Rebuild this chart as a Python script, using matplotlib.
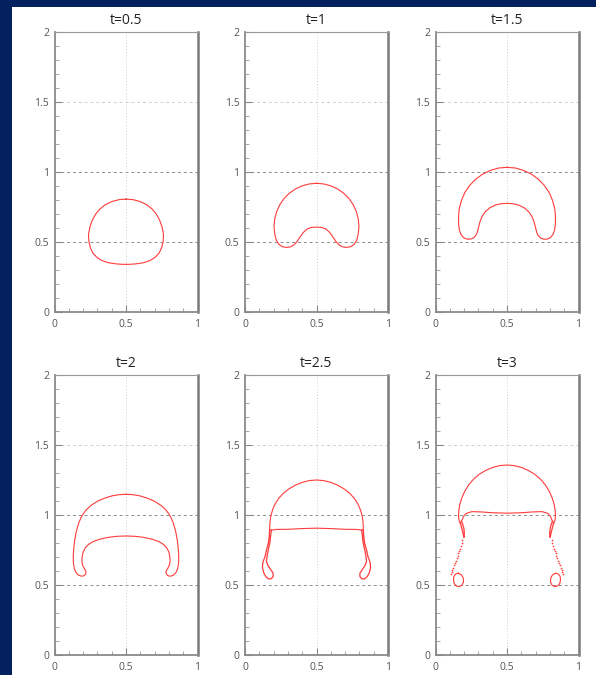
import numpy as np
import matplotlib
matplotlib.use("Agg")
import matplotlib.pyplot as plt
from matplotlib.patches import Rectangle
from matplotlib.ticker import MultipleLocator

plt.rcParams['font.family'] = ['Open Sans', 'DejaVu Sans']

# interface contours, left half only (the bubble is symmetric about x = 0.5)
# t = 0.5
x_t05 = [0.500, 0.450, 0.400, 0.355, 0.318, 0.288, 0.265, 0.248, 0.238, 0.240,
         0.250, 0.268, 0.295, 0.330, 0.375, 0.425, 0.475, 0.500]
y_t05 = [0.810, 0.806, 0.792, 0.770, 0.740, 0.703, 0.660, 0.612, 0.560, 0.510,
         0.465, 0.425, 0.395, 0.372, 0.356, 0.348, 0.344, 0.344]

# t = 1
x_t1 = [0.500, 0.448, 0.398, 0.352, 0.309, 0.272, 0.243, 0.221, 0.208, 0.203,
        0.208, 0.218, 0.236, 0.260, 0.290, 0.318, 0.342, 0.365, 0.385, 0.408,
        0.435, 0.465, 0.500]
y_t1 = [0.923, 0.918, 0.904, 0.882, 0.851, 0.813, 0.769, 0.720, 0.668, 0.615,
        0.561, 0.518, 0.488, 0.470, 0.465, 0.469, 0.483, 0.508, 0.540, 0.572,
        0.597, 0.608, 0.610]

# t = 1.5
x_t15 = [0.500, 0.441, 0.384, 0.331, 0.282, 0.240, 0.206, 0.182, 0.166, 0.161,
         0.162, 0.167, 0.178, 0.196, 0.220, 0.243, 0.265, 0.282, 0.293, 0.300,
         0.310, 0.325, 0.348, 0.380, 0.420, 0.460, 0.500]
y_t15 = [1.037, 1.032, 1.015, 0.989, 0.953, 0.909, 0.859, 0.802, 0.742, 0.680,
         0.630, 0.590, 0.558, 0.535, 0.524, 0.524, 0.532, 0.550, 0.575, 0.605,
         0.645, 0.685, 0.720, 0.748, 0.768, 0.777, 0.780]

# t = 2
x_t2 = [0.500, 0.450, 0.400, 0.350, 0.300, 0.255, 0.220, 0.192, 0.170, 0.153,
        0.142, 0.135, 0.131, 0.132, 0.138, 0.150, 0.168, 0.188, 0.206, 0.218,
        0.220, 0.210, 0.198, 0.192, 0.193, 0.200, 0.215, 0.238, 0.270, 0.320,
        0.380, 0.440, 0.500]
y_t2 = [1.148, 1.145, 1.136, 1.120, 1.098, 1.068, 1.035, 0.995, 0.945, 0.885,
        0.825, 0.765, 0.710, 0.660, 0.620, 0.590, 0.570, 0.563, 0.566, 0.578,
        0.596, 0.615, 0.638, 0.665, 0.700, 0.735, 0.765, 0.790, 0.810, 0.828,
        0.841, 0.848, 0.850]

# t = 2.5: cap, thin film, skirt and the loop at its lower end
x_t25_cap = [0.500, 0.450, 0.400, 0.350, 0.305, 0.268, 0.235, 0.210, 0.192, 0.180,
             0.174, 0.172]
y_t25_cap = [1.250, 1.246, 1.233, 1.212, 1.185, 1.155, 1.118, 1.078, 1.035, 0.990,
             0.945, 0.895]
x_t25_film = [0.172, 0.185, 0.220, 0.300, 0.400, 0.500]
y_t25_film = [0.895, 0.892, 0.897, 0.898, 0.903, 0.906]
x_t25_skirt = [0.172, 0.170, 0.163, 0.150, 0.140, 0.128, 0.124, 0.122, 0.130,
               0.145, 0.165, 0.185, 0.197, 0.196, 0.180, 0.160, 0.150, 0.155,
               0.165, 0.175, 0.180, 0.185]
y_t25_skirt = [0.893, 0.850, 0.798, 0.750, 0.702, 0.670, 0.655, 0.625, 0.590,
               0.560, 0.543, 0.545, 0.562, 0.585, 0.610, 0.640, 0.670, 0.710,
               0.760, 0.810, 0.860, 0.893]

# t = 3: cap, film, neck, broken ligament and satellite drop
x_t3_cap = [0.500, 0.450, 0.400, 0.350, 0.305, 0.265, 0.232, 0.205, 0.185, 0.170,
            0.163, 0.161, 0.165, 0.175]
y_t3_cap = [1.357, 1.353, 1.340, 1.318, 1.290, 1.255, 1.215, 1.170, 1.125, 1.075,
            1.030, 0.990, 0.960, 0.940]
x_t3_film = [0.172, 0.185, 0.196, 0.215, 0.255, 0.320, 0.400, 0.500]
y_t3_film = [0.940, 0.962, 0.990, 1.012, 1.024, 1.022, 1.016, 1.013]
x_t3_neck = [0.175, 0.182, 0.190, 0.196, 0.199, 0.202, 0.198, 0.190, 0.182]
y_t3_neck = [0.940, 0.910, 0.880, 0.850, 0.840, 0.870, 0.905, 0.935, 0.955]
x_t3_drops = [0.188, 0.182, 0.176, 0.170, 0.165, 0.160, 0.154, 0.148, 0.142,
              0.136, 0.130, 0.124, 0.118, 0.112, 0.106]
y_t3_drops = [0.820, 0.800, 0.780, 0.760, 0.745, 0.730, 0.710, 0.690, 0.670,
              0.655, 0.640, 0.625, 0.610, 0.595, 0.580]
x_t3_blob = [0.160, 0.140, 0.128, 0.126, 0.132, 0.148, 0.168, 0.186, 0.196,
             0.194, 0.182, 0.160]
y_t3_blob = [0.584, 0.578, 0.560, 0.535, 0.508, 0.492, 0.489, 0.500, 0.522,
             0.550, 0.572, 0.584]

titles = ['t=0.5', 't=1', 't=1.5', 't=2', 't=2.5', 't=3']

RED = '#ff3b3b'
NAVY = '#03205f'


def draw_half(ax, x, y, lw=0.8):
    # join the left half with its reflection about x = 0.5
    x = np.asarray(x)
    y = np.asarray(y)
    if x[0] == 0.5 and x[-1] != 0.5:
        xs = np.r_[1 - x[::-1], x]
        ys = np.r_[y[::-1], y]
    else:
        xs = np.r_[x, 1 - x[::-1]]
        ys = np.r_[y, y[::-1]]
    ax.plot(xs, ys, color=RED, lw=lw)


def draw_pair(ax, x, y, lw=0.8):
    # separate pieces on both sides
    x = np.asarray(x)
    ax.plot(x, y, color=RED, lw=lw)
    ax.plot(1 - x, y, color=RED, lw=lw)


def style_axes(ax, title):
    ax.set_xlim(0, 1)
    ax.set_ylim(0, 2)
    ax.set_title(title, fontsize=10, color='#222222', pad=6)
    ax.xaxis.set_minor_locator(MultipleLocator(0.1))
    ax.yaxis.set_minor_locator(MultipleLocator(0.1))
    ax.set_xticks([0, 0.5, 1])
    ax.set_xticklabels(['0', '0.5', '1'])
    ax.set_yticks([0, 0.5, 1, 1.5, 2])
    ax.set_yticklabels(['0', '0.5', '1', '1.5', '2'])
    ax.tick_params(which='major', direction='in', length=5, width=0.8,
                   color='#888888', labelsize=7.5, labelcolor='#555555')
    ax.tick_params(axis='x', which='major', pad=5)
    ax.tick_params(axis='y', which='major', pad=4)
    ax.tick_params(which='minor', direction='in', length=3, width=0.6,
                   color='#999999')
    for side in ['left', 'bottom']:
        ax.spines[side].set_color('#8a8a8a')
        ax.spines[side].set_linewidth(1.3)
    ax.spines['right'].set_color('#7a7a7a')
    ax.spines['right'].set_linewidth(1.8)
    ax.spines['top'].set_color('#999999')
    ax.spines['top'].set_linewidth(0.8)
    # reference lines
    for yv, c in [(0.5, '#8c8c8c'), (1.0, '#8c8c8c'), (1.5, '#cfcfcf')]:
        ax.axhline(yv, color=c, lw=0.7, ls=(0, (3, 3)), zorder=0)
    ax.axvline(0.5, color='#d0d0d0', lw=0.7, ls=(0, (1, 2)), zorder=0)


fig = plt.figure(figsize=(5.96, 6.75), dpi=100, facecolor=NAVY)
fig.patches.append(Rectangle((12 / 596, 0), 1, 1 - 7 / 675, transform=fig.transFigure,
                             facecolor='white', edgecolor='none', zorder=-1))

lefts = [54.5 / 596, 245 / 596, 435.5 / 596]
bottoms = [(675 - 312.5) / 675, (675 - 655) / 675]
w = 143 / 596
h = 280 / 675

axes = []
for r in range(2):
    for c in range(3):
        ax = fig.add_axes([lefts[c], bottoms[r], w, h])
        ax.set_facecolor('white')
        style_axes(ax, titles[r * 3 + c])
        axes.append(ax)

draw_half(axes[0], x_t05, y_t05)
draw_half(axes[1], x_t1, y_t1)
draw_half(axes[2], x_t15, y_t15)
draw_half(axes[3], x_t2, y_t2)

ax = axes[4]
draw_half(ax, x_t25_cap, y_t25_cap)
draw_half(ax, x_t25_film, y_t25_film)
draw_pair(ax, x_t25_skirt, y_t25_skirt, lw=0.9)

ax = axes[5]
draw_half(ax, x_t3_cap, y_t3_cap)
draw_half(ax, x_t3_film, y_t3_film)
draw_pair(ax, x_t3_neck, y_t3_neck, lw=0.9)
draw_pair(ax, x_t3_blob, y_t3_blob)
for xs in [np.asarray(x_t3_drops), 1 - np.asarray(x_t3_drops)]:
    ax.plot(xs, y_t3_drops, ls='none', marker='o', ms=1.2, mec='none', color=RED)

fig.savefig('out.png', dpi=100, facecolor=NAVY)
